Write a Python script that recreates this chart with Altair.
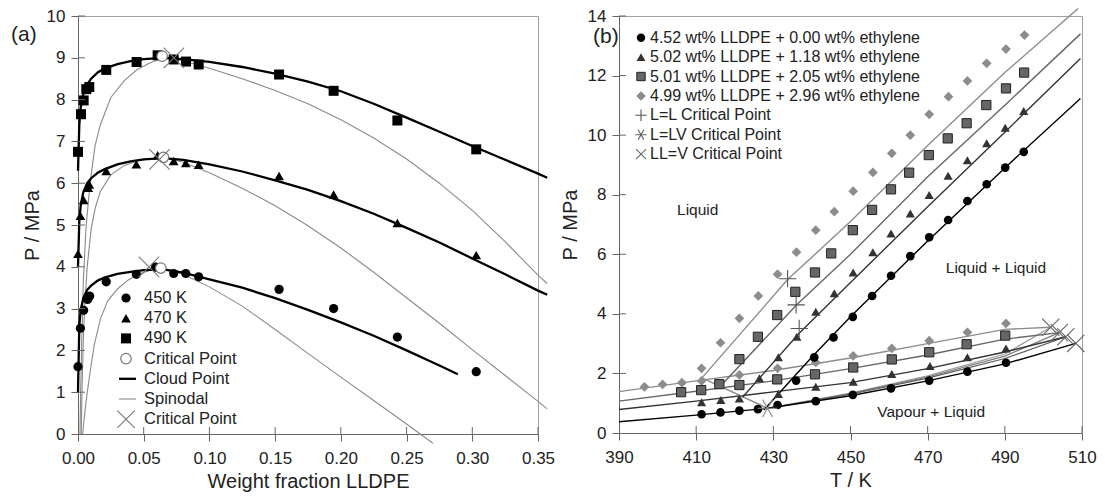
import altair as alt
import pandas as pd

FONT = "Liberation Sans"
TXT = "#222222"

# ---------------- Panel (a): weight fraction vs P ----------------
# experimental cloud points
pts450_x = [0.000, 0.0018, 0.0043, 0.0073, 0.0089, 0.0215, 0.0444, 0.059, 0.0728, 0.082, 0.0918, 0.153, 0.1945, 0.243, 0.303]
pts450_y = [1.61, 2.53, 2.96, 3.22, 3.30, 3.64, 3.82, 3.99, 3.84, 3.84, 3.76, 3.46, 3.00, 2.32, 1.49]
pts470_x = [0.000, 0.0018, 0.0043, 0.0078, 0.0086, 0.0215, 0.0444, 0.0606, 0.0728, 0.082, 0.0918, 0.153, 0.1945, 0.243, 0.303]
pts470_y = [4.31, 5.22, 5.60, 5.89, 5.97, 6.29, 6.45, 6.67, 6.53, 6.48, 6.44, 6.17, 5.73, 5.05, 4.28]
pts490_x = [0.000, 0.0023, 0.0043, 0.0063, 0.0086, 0.0215, 0.0446, 0.0606, 0.0728, 0.0822, 0.0918, 0.153, 0.1945, 0.243, 0.303]
pts490_y = [6.75, 7.65, 7.98, 8.25, 8.30, 8.71, 8.90, 9.06, 8.96, 8.91, 8.84, 8.60, 8.21, 7.50, 6.81]

# calculated cloud point curves
cl_x = [0.0, 0.001, 0.002, 0.004, 0.007, 0.01, 0.015, 0.02, 0.03, 0.04, 0.05, 0.065, 0.08, 0.1,
        0.125, 0.15, 0.175, 0.2, 0.225, 0.25, 0.275, 0.3, 0.325, 0.35, 0.357]
cl450_y = [1.0, 2.6, 2.95, 3.25, 3.45, 3.55, 3.67, 3.74, 3.83, 3.88, 3.92, 3.94, 3.86, 3.70,
           3.50, 3.25, 2.97, 2.67, 2.35, 2.00, 1.64]
cl450_end_x = [0.289]
cl450_end_y = [1.43]
cl470_y = [4.0, 5.1, 5.45, 5.78, 6.0, 6.12, 6.25, 6.33, 6.45, 6.52, 6.57, 6.60, 6.56, 6.45,
           6.28, 6.07, 5.84, 5.57, 5.27, 4.93, 4.58, 4.20, 3.82, 3.43, 3.33]
cl490_y = [6.3, 7.4, 7.8, 8.12, 8.36, 8.5, 8.65, 8.74, 8.85, 8.92, 8.97, 9.00, 8.97, 8.90,
           8.78, 8.62, 8.43, 8.20, 7.90, 7.57, 7.23, 6.89, 6.56, 6.23, 6.13]

# spinodal curves
sp450_x = [0.0035, 0.0055, 0.0075, 0.01, 0.0125, 0.017, 0.0225, 0.03, 0.038, 0.046, 0.055, 0.065,
           0.08, 0.1, 0.125, 0.15, 0.175, 0.2, 0.225, 0.25, 0.27]
sp450_y = [0.0, 0.6, 1.1, 1.65, 2.15, 2.75, 3.18, 3.47, 3.68, 3.82, 3.92, 3.95,
           3.82, 3.52, 3.06, 2.50, 1.93, 1.36, 0.80, 0.24, -0.22]
sp470_x = [0.0025, 0.003, 0.004, 0.005, 0.007, 0.01, 0.013, 0.017, 0.025, 0.035, 0.045, 0.055, 0.065,
           0.08, 0.1, 0.125, 0.15, 0.175, 0.2, 0.225, 0.25, 0.275, 0.3, 0.325, 0.35, 0.357]
sp470_y = [0.0, 1.0, 2.2, 3.0, 4.0, 4.9, 5.4, 5.8, 6.2, 6.42, 6.53, 6.59, 6.62,
           6.50, 6.25, 5.88, 5.46, 4.98, 4.45, 3.87, 3.26, 2.65, 2.02, 1.40, 0.78, 0.60]
sp490_x = [0.0015, 0.002, 0.003, 0.004, 0.006, 0.008, 0.01, 0.013, 0.017, 0.025, 0.035, 0.045, 0.055, 0.065,
           0.08, 0.1, 0.125, 0.15, 0.175, 0.2, 0.225, 0.25, 0.275, 0.3, 0.325, 0.35, 0.357]
sp490_y = [0.0, 1.0, 2.4, 3.6, 4.9, 5.6, 6.2, 6.9, 7.4, 8.05, 8.45, 8.72, 8.88, 9.0,
           8.93, 8.75, 8.50, 8.22, 7.90, 7.52, 7.08, 6.58, 6.00, 5.35, 4.60, 3.80, 3.60]

crit_open_x = [0.064, 0.065, 0.063]
crit_open_y = [9.04, 6.62, 3.97]
crit_x_x = [0.073, 0.062, 0.054]
crit_x_y = [9.00, 6.57, 4.00]

x_ticks_a = [0.0, 0.05, 0.10, 0.15, 0.20, 0.25, 0.30, 0.35]
y_ticks_a = [0, 1, 2, 3, 4, 5, 6, 7, 8, 9, 10]
legend_a = ["450 K", "470 K", "490 K", "Critical Point", "Cloud Point", "Spinodal", "Critical Point"]

# ---------------- Panel (b): T vs P ----------------
circ_T = [411.4, 416.3, 421.2, 426.0, 431.1, 435.9, 440.6, 445.6, 450.6, 455.6, 460.5, 465.5, 470.4, 475.3,
          480.3, 485.3, 490.1, 494.9, 441.0, 450.6, 460.5, 470.4, 480.3, 490.3]
circ_P = [0.63, 0.69, 0.75, 0.80, 0.94, 1.76, 2.54, 3.21, 3.90, 4.60, 5.28, 5.94, 6.57, 7.15,
          7.79, 8.35, 8.91, 9.44, 1.07, 1.28, 1.50, 1.76, 2.06, 2.36]
tri_T = [411.4, 416.4, 421.2, 426.4, 431.3, 431.3, 436.1, 441.0, 441.0, 445.8, 450.7, 455.8, 460.5, 465.5,
         470.4, 475.3, 480.3, 485.3, 490.1, 494.9, 450.7, 460.7, 470.6, 480.3, 490.3]
tri_P = [1.03, 1.11, 1.16, 1.84, 1.31, 2.54, 3.23, 4.07, 1.55, 4.69, 5.39, 6.07, 6.70, 7.37,
         7.99, 8.64, 9.16, 9.73, 10.25, 10.81, 1.72, 1.98, 2.25, 2.54, 2.84]
sq_T = [406.1, 411.3, 416.0, 421.2, 421.2, 426.0, 431.0, 431.0, 435.7, 440.8, 440.8, 445.0, 450.6, 455.6,
        460.5, 465.2, 470.3, 475.2, 480.1, 485.2, 490.3, 495.0, 450.7, 460.7, 470.4, 480.1, 490.1]
sq_P = [1.37, 1.44, 1.64, 1.61, 2.48, 3.23, 1.80, 3.96, 4.74, 5.39, 1.97, 6.03, 6.81, 7.49,
        8.18, 8.74, 9.33, 9.89, 10.40, 11.01, 11.57, 12.10, 2.20, 2.47, 2.71, 2.98, 3.27]
dia_T = [396.6, 401.3, 406.3, 411.4, 411.4, 416.3, 421.2, 421.2, 426.1, 431.1, 431.1, 436.0, 441.0, 441.0,
         445.8, 450.7, 455.8, 460.7, 465.5, 470.4, 475.4, 480.3, 485.3, 490.3, 495.1,
         450.7, 460.7, 470.4, 480.3, 490.3]
dia_P = [1.55, 1.63, 1.69, 1.75, 2.17, 3.03, 3.85, 1.95, 4.60, 5.33, 2.17, 6.07, 6.81, 2.37,
         7.43, 8.12, 8.75, 9.39, 10.00, 10.70, 11.29, 11.82, 12.41, 12.89, 13.36,
         2.59, 2.84, 3.10, 3.38, 3.68]

# liquid-liquid boundaries
ll_circ_T = [427.6, 440, 450, 470, 490, 509.6]
ll_circ_P = [0.78, 2.55, 3.9, 6.45, 8.9, 11.23]
ll_tri_T = [422.0, 436.7, 450, 470, 490, 509.6]
ll_tri_P = [1.2, 3.35, 5.05, 7.6, 10.1, 12.57]
ll_sq_T = [416.5, 436.0, 450, 470, 490, 509.6]
ll_sq_P = [1.6, 4.3, 6.0, 8.6, 11.0, 13.4]
ll_dia_T = [411.5, 433.7, 450, 470, 490, 509.0]
ll_dia_P = [1.85, 5.15, 7.1, 9.65, 12.1, 14.25]
# LLV locus
llv_T = [411.5, 428.5]
llv_P = [1.85, 0.83]
# vapour-liquid boundaries
vl_circ_T = [390, 410, 428.5, 450, 470, 490, 508.4]
vl_circ_P = [0.38, 0.60, 0.83, 1.25, 1.75, 2.32, 3.01]
vl_tri_T = [390, 410, 430, 450, 470, 490, 505.8]
vl_tri_P = [0.79, 1.07, 1.38, 1.69, 2.16, 2.72, 3.23]
vl_sq_T = [390, 410, 430, 450, 470, 490, 504.1]
vl_sq_P = [1.07, 1.40, 1.75, 2.16, 2.62, 3.15, 3.37]
vl_dia_T = [390, 410, 430, 450, 470, 490, 501.9]
vl_dia_P = [1.39, 1.75, 2.10, 2.52, 3.00, 3.48, 3.55]
# branches from the L=LV point
br1_T = [428.5, 450, 470, 490, 501.9]
br1_P = [0.83, 1.34, 1.92, 2.65, 3.55]
br2_T = [428.5, 450, 470, 490, 504.1]
br2_P = [0.83, 1.32, 1.88, 2.58, 3.37]
br3_T = [428.5, 450, 470, 490, 505.8]
br3_P = [0.83, 1.30, 1.84, 2.50, 3.23]

llcp_T = [433.7, 435.9, 436.7]
llcp_P = [5.18, 4.30, 3.51]
llvcp_T = [428.5]
llvcp_P = [0.83]
llvx_T = [501.9, 504.1, 505.8, 508.4]
llvx_P = [3.55, 3.37, 3.23, 3.01]

region_labels = ["Liquid", "Liquid + Liquid", "Vapour + Liquid"]
region_T = [410.4, 487.7, 470.9]
region_P = [7.49, 5.53, 0.69]

x_ticks_b = [390, 410, 430, 450, 470, 490, 510]
y_ticks_b = [0, 2, 4, 6, 8, 10, 12, 14]
legend_b = ["4.52 wt% LLDPE + 0.00 wt% ethylene", "5.02 wt% LLDPE + 1.18 wt% ethylene",
            "5.01 wt% LLDPE + 2.05 wt% ethylene", "4.99 wt% LLDPE + 2.96 wt% ethylene",
            "L=L Critical Point", "L=LV Critical Point", "LL=V Critical Point"]

# ---------------- shapes / helpers ----------------
XSHAPE = "M-1,-1L1,1M-1,1L1,-1"
PLUS = "M-1,0L1,0M0,-1L0,1"
AST = "M-1,0L1,0M-0.5,-0.866L0.5,0.866M-0.5,0.866L0.5,-0.866"

ONE = pd.DataFrame({"k": [0]})


def df(xs, ys, xk, yk, name="s"):
    return pd.DataFrame({xk: xs, yk: ys, "s": name})


# ================= Panel (a) =================
WA, HA = 460, 418
xa = alt.X("x:Q", scale=alt.Scale(domain=[0, 0.35], nice=False, zero=False),
           axis=alt.Axis(values=x_ticks_a, format=".2f", title="Weight fraction LLDPE",
                         labelPadding=9, titlePadding=5))
ya = alt.Y("y:Q", scale=alt.Scale(domain=[0, 10], nice=False, zero=False),
           axis=alt.Axis(values=y_ticks_a, format="d", title="P / MPa", labelPadding=6, titlePadding=4))

spin = pd.concat([df(sp450_x, sp450_y, "x", "y", "450"), df(sp470_x, sp470_y, "x", "y", "470"),
                  df(sp490_x, sp490_y, "x", "y", "490")])
cloud = pd.concat([df(cl_x[:len(cl450_y)] + cl450_end_x, cl450_y + cl450_end_y, "x", "y", "450"),
                   df(cl_x, cl470_y, "x", "y", "470"), df(cl_x, cl490_y, "x", "y", "490")])

a_layers = [
    alt.Chart(spin).mark_line(color="#8a8a8a", strokeWidth=1.1).encode(x=xa, y=ya, detail="s:N"),
    alt.Chart(cloud).mark_line(color="#000000", strokeWidth=2.3).encode(x=xa, y=ya, detail="s:N"),
    alt.Chart(df(pts450_x, pts450_y, "x", "y")).mark_point(shape="circle", filled=True, color="#000", size=85, opacity=1).encode(x=xa, y=ya),
    alt.Chart(df(pts470_x, pts470_y, "x", "y")).mark_point(shape="triangle-up", filled=True, color="#000", size=95, opacity=1).encode(x=xa, y=ya),
    alt.Chart(df(pts490_x, pts490_y, "x", "y")).mark_point(shape="square", filled=True, color="#000", size=100, opacity=1).encode(x=xa, y=ya),
    alt.Chart(df(crit_open_x, crit_open_y, "x", "y")).mark_point(shape="circle", filled=True, fill="white", stroke="#777", strokeWidth=1.2, size=110, opacity=1).encode(x=xa, y=ya),
    alt.Chart(df(crit_x_x, crit_x_y, "x", "y")).mark_point(shape=XSHAPE, filled=False, color="#777", strokeWidth=1.1, size=420, opacity=1).encode(x=xa, y=ya),
    # inner halves of tick marks
    alt.Chart(pd.DataFrame({"y": y_ticks_a[1:]})).mark_rule(color="#666", strokeWidth=1).encode(y=ya, x=alt.value(0), x2=alt.value(7)),
    alt.Chart(pd.DataFrame({"x": x_ticks_a[1:]})).mark_rule(color="#666", strokeWidth=1).encode(x=xa, y=alt.value(HA), y2=alt.value(HA - 7)),
    alt.Chart(ONE).mark_text(text="(a)", font=FONT, fontSize=21, color=TXT, align="left", baseline="alphabetic").encode(x=alt.value(-67), y=alt.value(25)),
]

# legend (a)
LYA0, LDA = 282, 20.2
leg_marks = [
    dict(shape="circle", filled=True, color="#000", size=85),
    dict(shape="triangle-up", filled=True, color="#000", size=95),
    dict(shape="square", filled=True, color="#000", size=100),
    dict(shape="circle", filled=True, fill="white", stroke="#777", strokeWidth=1.2, size=110),
    None,
    None,
    dict(shape=XSHAPE, filled=False, color="#777", strokeWidth=1.1, size=300),
]
for i, lab in enumerate(legend_a):
    yy = LYA0 + LDA * i
    m = leg_marks[i]
    if m is not None:
        a_layers.append(alt.Chart(ONE).mark_point(opacity=1, **m).encode(x=alt.value(48), y=alt.value(yy)))
    elif lab == "Cloud Point":
        a_layers.append(alt.Chart(ONE).mark_rule(color="#000", strokeWidth=2.3).encode(x=alt.value(41), x2=alt.value(58), y=alt.value(yy)))
    else:
        a_layers.append(alt.Chart(ONE).mark_rule(color="#8a8a8a", strokeWidth=1.1).encode(x=alt.value(41), x2=alt.value(58), y=alt.value(yy)))
    a_layers.append(alt.Chart(ONE).mark_text(text=lab, font=FONT, fontSize=16.5, color=TXT, align="left", baseline="middle").encode(x=alt.value(66), y=alt.value(yy)))

panel_a = alt.layer(*a_layers).properties(width=WA, height=HA)

# ================= Panel (b) =================
WB, HB = 463, 417
xb = alt.X("T:Q", scale=alt.Scale(domain=[390, 510], nice=False, zero=False),
           axis=alt.Axis(values=x_ticks_b, format="d", title="T / K", labelPadding=9, titlePadding=5))
yb = alt.Y("P:Q", scale=alt.Scale(domain=[0, 14], nice=False, zero=False),
           axis=alt.Axis(values=y_ticks_b, format="d", title="P / MPa", labelPadding=6, titlePadding=7))

C1, C2, C3, C4 = "#000000", "#333333", "#666666", "#8c8c8c"


def bline(T, P, color, w=1.4):
    return alt.Chart(df(T, P, "T", "P")).mark_line(color=color, strokeWidth=w).encode(x=xb, y=yb)


b_layers = [
    bline(br1_T, br1_P, "#9a9a9a", 1.2),
    bline(br2_T, br2_P, "#7a7a7a", 1.2),
    bline(br3_T, br3_P, "#5a5a5a", 1.2),
    bline(vl_dia_T, vl_dia_P, C4), bline(vl_sq_T, vl_sq_P, C3), bline(vl_tri_T, vl_tri_P, C2), bline(vl_circ_T, vl_circ_P, C1),
    bline(llv_T, llv_P, C4),
    bline(ll_dia_T, ll_dia_P, C4), bline(ll_sq_T, ll_sq_P, C3), bline(ll_tri_T, ll_tri_P, C2), bline(ll_circ_T, ll_circ_P, C1),
    alt.Chart(df(dia_T, dia_P, "T", "P")).mark_point(shape="diamond", filled=True, color=C4, size=95, opacity=1).encode(x=xb, y=yb),
    alt.Chart(df(sq_T, sq_P, "T", "P")).mark_point(shape="square", filled=True, fill=C3, stroke="#222", strokeWidth=1, size=85, opacity=1).encode(x=xb, y=yb),
    alt.Chart(df(tri_T, tri_P, "T", "P")).mark_point(shape="triangle-up", filled=True, color=C2, size=85, opacity=1).encode(x=xb, y=yb),
    alt.Chart(df(circ_T, circ_P, "T", "P")).mark_point(shape="circle", filled=True, color=C1, size=75, opacity=1).encode(x=xb, y=yb),
    alt.Chart(df(llcp_T, llcp_P, "T", "P")).mark_point(shape=PLUS, filled=False, color="#555", strokeWidth=1.1, size=300, opacity=1).encode(x=xb, y=yb),
    alt.Chart(df(llvcp_T, llvcp_P, "T", "P")).mark_point(shape=AST, filled=False, color="#888", strokeWidth=1.1, size=400, opacity=1).encode(x=xb, y=yb),
    alt.Chart(df(llvx_T, llvx_P, "T", "P")).mark_point(shape=XSHAPE, filled=False, color="#666", strokeWidth=1.1, size=300, opacity=1).encode(x=xb, y=yb),
    alt.Chart(pd.DataFrame({"label": region_labels, "T": region_T, "P": region_P})).mark_text(font=FONT, fontSize=15.5, color=TXT).encode(x=xb, y=yb, text="label:N"),
    alt.Chart(pd.DataFrame({"P": y_ticks_b[1:]})).mark_rule(color="#666", strokeWidth=1).encode(y=yb, x=alt.value(0), x2=alt.value(7)),
    alt.Chart(pd.DataFrame({"T": x_ticks_b[1:]})).mark_rule(color="#666", strokeWidth=1).encode(x=xb, y=alt.value(HB), y2=alt.value(HB - 7)),
    alt.Chart(ONE).mark_text(text="(b)", font=FONT, fontSize=21, color=TXT, align="left", baseline="alphabetic").encode(x=alt.value(-26), y=alt.value(27)),
]

LYB0, LDB = 21.7, 19.4
leg_b_marks = [
    dict(shape="circle", filled=True, color=C1, size=70),
    dict(shape="triangle-up", filled=True, color=C2, size=80),
    dict(shape="square", filled=True, fill=C3, stroke="#222", strokeWidth=1, size=70),
    dict(shape="diamond", filled=True, color=C4, size=90),
    dict(shape=PLUS, filled=False, color="#555", strokeWidth=1.1, size=130),
    dict(shape=AST, filled=False, color="#666", strokeWidth=1.1, size=130),
    dict(shape=XSHAPE, filled=False, color="#666", strokeWidth=1.1, size=100),
]
for i, lab in enumerate(legend_b):
    yy = LYB0 + LDB * i
    b_layers.append(alt.Chart(ONE).mark_point(opacity=1, **leg_b_marks[i]).encode(x=alt.value(22), y=alt.value(yy)))
    b_layers.append(alt.Chart(ONE).mark_text(text=lab, font=FONT, fontSize=16, color=TXT, align="left", baseline="middle").encode(x=alt.value(31), y=alt.value(yy)))

panel_b = alt.layer(*b_layers).properties(width=WB, height=HB)

chart = alt.hconcat(panel_a, panel_b, spacing=81, bounds="flush").properties(
    padding={"left": 10, "top": 5, "right": 5, "bottom": 5},
    autosize=alt.AutoSizeParams(type="pad"),
    background="white",
).configure_view(stroke="#a0a0a0", strokeWidth=1).configure_axis(
    labelFont=FONT, titleFont=FONT, labelFontSize=17, titleFontSize=20, titleFontWeight="normal",
    labelColor=TXT, titleColor=TXT, domainColor="#666", tickColor="#666", tickSize=7, grid=False,
    labelFlush=False,
)

chart.save("out.html", embed_options={"renderer": "svg", "actions": False})
